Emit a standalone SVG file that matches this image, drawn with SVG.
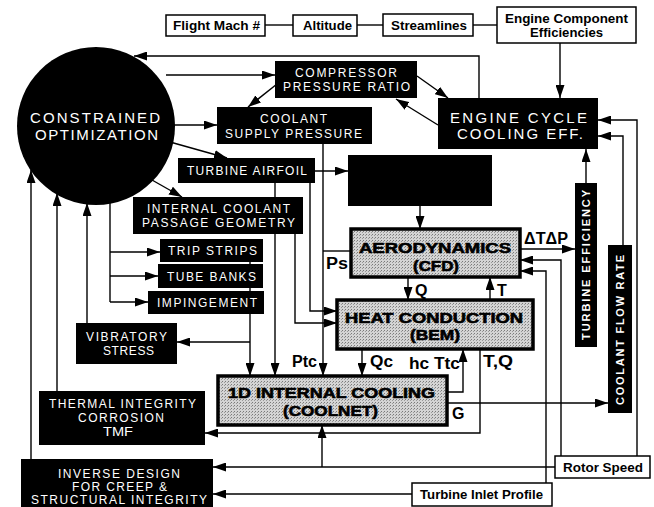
<svg xmlns="http://www.w3.org/2000/svg" width="654" height="507" viewBox="0 0 654 507">
<defs>
<marker id="ah" markerUnits="userSpaceOnUse" markerWidth="13" markerHeight="9" refX="13" refY="4.5" orient="auto">
<path d="M0,0 L13,4.5 L0,9 z" fill="#000"/>
</marker>
<pattern id="dots" width="3" height="3" patternUnits="userSpaceOnUse">
<rect width="3" height="3" fill="#d4d4d4"/>
<rect width="1" height="1" fill="#7a7a7a"/>
<rect x="2" y="1" width="1" height="1" fill="#9a9a9a"/>
</pattern>
</defs>
<style>
.ln{fill:none;stroke:#000;stroke-width:1.4}
.ar{fill:none;stroke:#000;stroke-width:1.4;marker-end:url(#ah)}
.wb{fill:#fff;stroke:#000;stroke-width:1.5}
.bb{fill:#000}
.gb{fill:url(#dots);stroke:#000;stroke-width:3.5}
.wt{font-family:"Liberation Sans",Arial,sans-serif;font-size:12px;fill:#fff;text-anchor:middle}
.big{font-size:15px}
.bt{font-family:"Liberation Sans",Arial,sans-serif;font-weight:bold;font-size:13px;fill:#000;text-anchor:middle}
.gt{font-family:"Liberation Sans",Arial,sans-serif;font-weight:bold;font-size:15px;fill:#000;stroke:#000;stroke-width:0.6;text-anchor:middle}
.lb{font-family:"Liberation Sans",Arial,sans-serif;font-weight:bold;font-size:16px;fill:#000}
.rt{font-family:"Liberation Sans",Arial,sans-serif;font-weight:bold;font-size:11px;fill:#fff;text-anchor:middle}
</style>
<rect width="654" height="507" fill="#fff"/>
<g id="connectors">
<line class="ln" x1="265" y1="25" x2="293" y2="25"/>
<line class="ln" x1="357" y1="25" x2="383" y2="25"/>
<line class="ln" x1="473" y1="25" x2="497" y2="25"/>
<line class="ar" x1="560" y1="43" x2="560" y2="98"/>
<polyline class="ar" points="479,98 479,56 134,56"/>
<line class="ar" x1="166" y1="75" x2="275" y2="75"/>
<line class="ar" x1="277" y1="84" x2="248" y2="107"/>
<line class="ar" x1="417" y1="76" x2="448" y2="98"/>
<line class="ar" x1="438" y1="125" x2="396" y2="99"/>
<line class="ar" x1="174" y1="125" x2="217" y2="125"/>
<line class="ar" x1="170" y1="142" x2="227" y2="158"/>
<line class="ar" x1="152" y1="180" x2="182" y2="197"/>
<polyline class="ln" points="110,200 110,302"/>
<line class="ar" x1="110" y1="252" x2="160" y2="252"/>
<line class="ar" x1="110" y1="276" x2="158" y2="276"/>
<line class="ar" x1="110" y1="302" x2="148" y2="302"/>
<line class="ar" x1="87" y1="323" x2="87" y2="203"/>
<line class="ar" x1="57" y1="391" x2="57" y2="193"/>
<line class="ar" x1="31" y1="459" x2="31" y2="170"/>
<line class="ar" x1="315" y1="171" x2="348" y2="171"/>
<line class="ar" x1="420" y1="206" x2="420" y2="229"/>
<line class="ar" x1="323" y1="144" x2="323" y2="376"/>
<line class="ln" x1="323" y1="251" x2="351" y2="251"/>
<polyline class="ar" points="310,183 310,311 337,311"/>
<polyline class="ar" points="295,234 295,323 337,323"/>
<line class="ar" x1="275" y1="183" x2="275" y2="376"/>
<line class="ar" x1="250" y1="262" x2="250" y2="376"/>
<line class="ar" x1="250" y1="342" x2="177" y2="342"/>
<line class="ar" x1="408" y1="277" x2="408" y2="300"/>
<line class="ar" x1="490" y1="300" x2="490" y2="277"/>
<line class="ar" x1="362" y1="349" x2="362" y2="376"/>
<polyline class="ar" points="447,392 463,392 463,349"/>
<polyline class="ar" points="480,349 480,433 205,433"/>
<line class="ar" x1="447" y1="403" x2="608" y2="403"/>
<line class="ar" x1="520" y1="249" x2="575" y2="249"/>
<line class="ar" x1="586" y1="183" x2="586" y2="149"/>
<polyline class="ar" points="623,245 623,136 598,136"/>
<polyline class="ar" points="637,456 637,120 598,120"/>
<polyline class="ar" points="561,456 561,260 520,260"/>
<polyline class="ar" points="546,483 546,271 520,271"/>
<line class="ar" x1="555" y1="467" x2="213" y2="467"/>
<line class="ar" x1="322" y1="467" x2="322" y2="425"/>
<line class="ar" x1="412" y1="494" x2="213" y2="494"/>
</g>
<g id="flight-mach"><rect class="wb" x="166" y="15" width="99" height="21"/><text class="bt" x="216.5" y="30" textLength="87" lengthAdjust="spacingAndGlyphs">Flight Mach #</text></g>
<g id="altitude"><rect class="wb" x="293" y="15" width="64" height="21"/><text class="bt" x="327.5" y="30" textLength="49" lengthAdjust="spacingAndGlyphs">Altitude</text></g>
<g id="streamlines"><rect class="wb" x="383" y="14" width="90" height="22"/><text class="bt" x="429" y="30" textLength="76" lengthAdjust="spacingAndGlyphs">Streamlines</text></g>
<g id="engine-component"><rect class="wb" x="497" y="7" width="139" height="36"/><text class="bt" x="566.5" y="23" textLength="123" lengthAdjust="spacingAndGlyphs">Engine Component</text><text class="bt" x="566.5" y="37" textLength="73" lengthAdjust="spacingAndGlyphs">Efficiencies</text></g>
<g id="constrained-optimization"><circle cx="96" cy="126" r="79" fill="#000"/><text class="wt big" x="95" y="123" textLength="130" lengthAdjust="spacing">CONSTRAINED</text><text class="wt big" x="96.5" y="140" textLength="123" lengthAdjust="spacing">OPTIMIZATION</text></g>
<g id="compressor"><rect class="bb" x="275" y="61" width="142" height="37"/><text class="wt" x="346" y="77" textLength="102" lengthAdjust="spacing">COMPRESSOR</text><text class="wt" x="346.5" y="91" textLength="127" lengthAdjust="spacing">PRESSURE RATIO</text></g>
<g id="engine-cycle"><rect class="bb" x="438" y="98" width="160" height="51"/><text class="wt big" x="518.5" y="123" textLength="137" lengthAdjust="spacing">ENGINE CYCLE</text><text class="wt big" x="520" y="139" textLength="126" lengthAdjust="spacing">COOLING EFF.</text></g>
<g id="coolant-supply"><rect class="bb" x="217" y="107" width="155" height="37"/><text class="wt" x="293.5" y="123" textLength="67" lengthAdjust="spacing">COOLANT</text><text class="wt" x="293.5" y="138" textLength="137" lengthAdjust="spacing">SUPPLY PRESSURE</text></g>
<g id="turbine-airfoil"><rect class="bb" x="178" y="158" width="137" height="25"/><text class="wt" x="247" y="175" textLength="120" lengthAdjust="spacing">TURBINE AIRFOIL</text></g>
<g id="blank-box"><rect class="bb" x="348" y="155" width="144" height="51"/></g>
<g id="internal-coolant"><rect class="bb" x="133" y="197" width="170" height="37"/><text class="wt" x="218.5" y="213" textLength="143" lengthAdjust="spacing">INTERNAL COOLANT</text><text class="wt" x="218.5" y="227" textLength="153" lengthAdjust="spacing">PASSAGE GEOMETRY</text></g>
<g id="trip-strips"><rect class="bb" x="160" y="239" width="103" height="23"/><text class="wt" x="212.5" y="255" textLength="89" lengthAdjust="spacing">TRIP STRIPS</text></g>
<g id="tube-banks"><rect class="bb" x="158" y="264" width="105" height="24"/><text class="wt" x="211.5" y="281" textLength="89" lengthAdjust="spacing">TUBE BANKS</text></g>
<g id="impingement"><rect class="bb" x="148" y="291" width="116" height="23"/><text class="wt" x="207" y="307" textLength="100" lengthAdjust="spacing">IMPINGEMENT</text></g>
<g id="vibratory-stress"><rect class="bb" x="76" y="323" width="101" height="41"/><text class="wt" x="126.5" y="341" textLength="81" lengthAdjust="spacing">VIBRATORY</text><text class="wt" x="128.5" y="355" textLength="51" lengthAdjust="spacing">STRESS</text></g>
<g id="thermal-integrity"><rect class="bb" x="39" y="391" width="166" height="54"/><text class="wt" x="122.5" y="408" textLength="147" lengthAdjust="spacing">THERMAL INTEGRITY</text><text class="wt" x="121" y="422" textLength="86" lengthAdjust="spacing">CORROSION</text><text class="wt" x="118" y="436" textLength="30" lengthAdjust="spacingAndGlyphs">TMF</text></g>
<g id="inverse-design"><rect class="bb" x="21" y="459" width="192" height="48"/><text class="wt" x="119" y="478" textLength="122" lengthAdjust="spacing">INVERSE DESIGN</text><text class="wt" x="119.5" y="491" textLength="95" lengthAdjust="spacing">FOR CREEP &amp;</text><text class="wt" x="119" y="504" textLength="176" lengthAdjust="spacing">STRUCTURAL INTEGRITY</text></g>
<g id="aerodynamics"><rect class="gb" x="351" y="229" width="169" height="48"/><text class="gt" x="435" y="253" textLength="152" lengthAdjust="spacingAndGlyphs">AERODYNAMICS</text><text class="gt" x="436" y="271" textLength="46" lengthAdjust="spacingAndGlyphs">(CFD)</text></g>
<g id="heat-conduction"><rect class="gb" x="337" y="300" width="196" height="49"/><text class="gt" x="434" y="323" textLength="178" lengthAdjust="spacingAndGlyphs">HEAT CONDUCTION</text><text class="gt" x="435" y="340" textLength="50" lengthAdjust="spacingAndGlyphs">(BEM)</text></g>
<g id="coolnet"><rect class="gb" x="218" y="376" width="229" height="49"/><text class="gt" x="331.5" y="398" textLength="207" lengthAdjust="spacingAndGlyphs">1D INTERNAL COOLING</text><text class="gt" x="330.5" y="416" textLength="95" lengthAdjust="spacingAndGlyphs">(COOLNET)</text></g>
<g id="turbine-efficiency"><rect class="bb" x="575" y="183" width="22" height="164"/><text class="rt" transform="translate(590,265) rotate(-90)" x="0" y="0" textLength="150" lengthAdjust="spacing">TURBINE EFFICIENCY</text></g>
<g id="coolant-flow-rate"><rect class="bb" x="608" y="245" width="24" height="168"/><text class="rt" transform="translate(624,330) rotate(-90)" x="0" y="0" textLength="150" lengthAdjust="spacing">COOLANT FLOW RATE</text></g>
<g id="rotor-speed"><rect class="wb" x="555" y="456" width="95" height="22"/><text class="bt" x="603" y="472" textLength="80" lengthAdjust="spacingAndGlyphs">Rotor Speed</text></g>
<g id="turbine-inlet"><rect class="wb" x="412" y="483" width="140" height="23"/><text class="bt" x="481.5" y="499" textLength="123" lengthAdjust="spacingAndGlyphs">Turbine Inlet Profile</text></g>
<g id="labels">
<text class="lb" x="326" y="269" textLength="22" lengthAdjust="spacingAndGlyphs">Ps</text>
<text class="lb" x="415" y="296">Q</text>
<text class="lb" x="497" y="296">T</text>
<text class="lb" x="524" y="244" textLength="44" lengthAdjust="spacingAndGlyphs">ΔTΔP</text>
<text class="lb" x="292" y="367" textLength="25" lengthAdjust="spacingAndGlyphs">Ptc</text>
<text class="lb" x="370" y="367" textLength="23" lengthAdjust="spacingAndGlyphs">Qc</text>
<text class="lb" x="409" y="369" textLength="51" lengthAdjust="spacingAndGlyphs">hc Ttc</text>
<text class="lb" x="483" y="367" textLength="30" lengthAdjust="spacingAndGlyphs">T,Q</text>
<text class="lb" x="452" y="419">G</text>
</g>
</svg>
